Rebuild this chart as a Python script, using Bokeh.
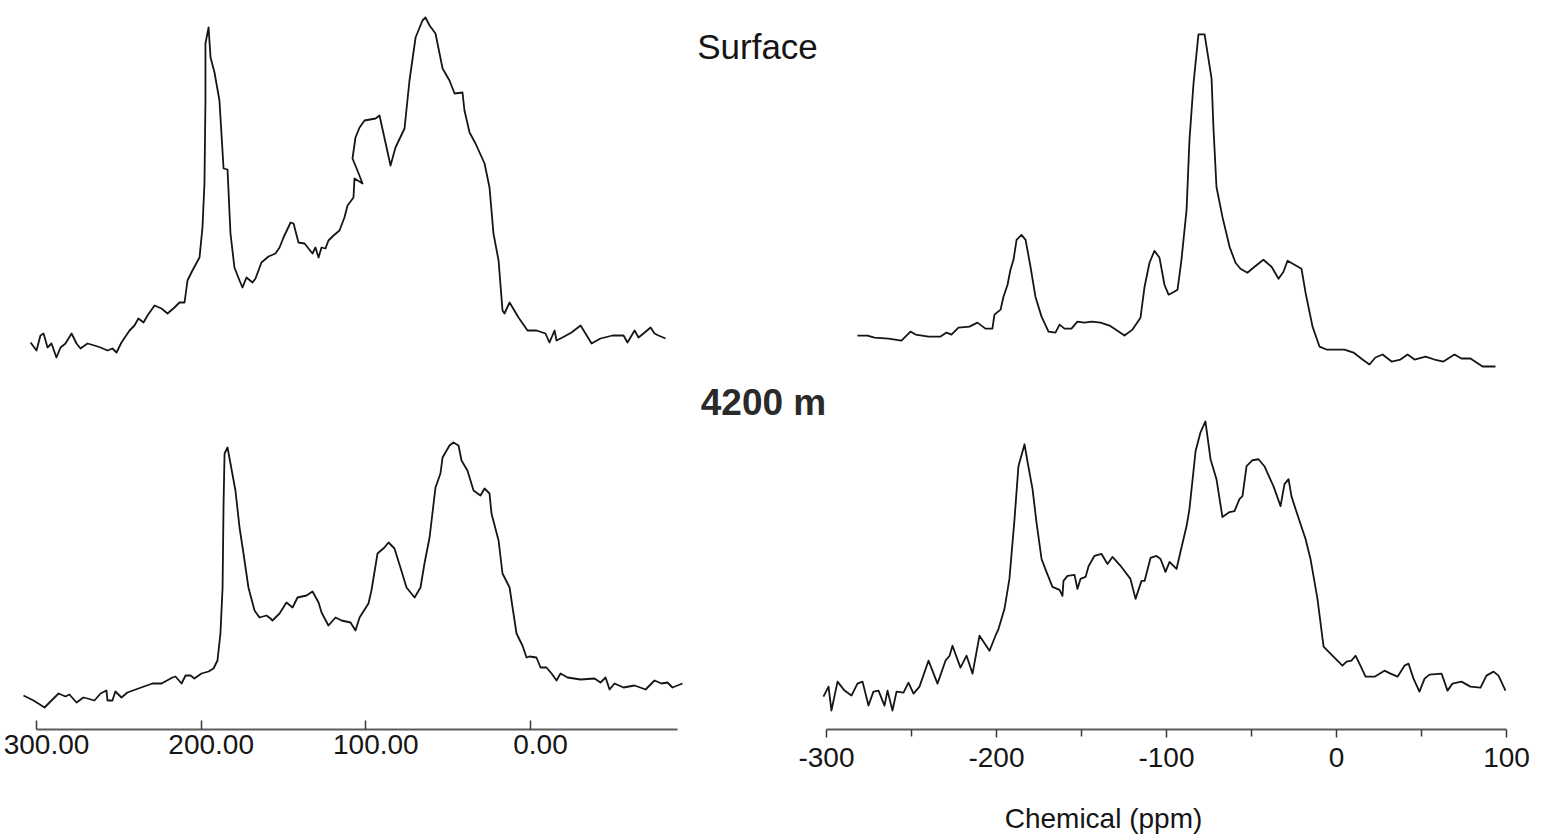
from bokeh.plotting import figure
from bokeh.models import Range1d, LinearAxis, FixedTicker, PrintfTickFormatter, Label
from bokeh.layouts import row
from bokeh.embed import file_html
from bokeh.resources import INLINE

# ---------------- data (ppm, intensity in arbitrary units) ----------------
LEFT_TICKS = [300, 200, 100, 0]
RIGHT_TICKS = [-300, -200, -100, 0, 100]
RIGHT_MINOR = [-250, -150, -50, 50]
LABEL_TOP = "Surface"
LABEL_BOTTOM = "4200 m"
X_TITLE = "Chemical (ppm)"

# left, top (Surface)
LT_PPM = [303.6, 300.0, 297.6, 295.7, 293.3, 290.9, 287.9, 285.4, 282.4, 278.7, 275.7, 273.3, 269.0, 264.8,
          261.1, 256.9, 253.9, 251.4, 248.4, 243.5, 240.5, 238.1, 235.0, 232.6, 228.3, 224.1, 220.4, 216.2,
          213.2, 210.1, 208.3, 205.3, 201.0, 199.2, 198.0, 197.4, 197.4, 195.5, 194.3, 191.9, 188.9, 186.4,
          184.0, 182.2, 179.8, 176.7, 174.9, 172.5, 168.8, 167.0, 163.4, 159.1, 154.9, 152.4, 150.0, 145.7,
          143.9, 140.9, 137.2, 134.8, 132.4, 130.6, 128.7, 126.9, 124.5, 122.7, 119.6, 116.0, 113.0, 111.1,
          107.5, 106.9, 102.0, 105.1, 108.1, 106.3, 103.8, 100.8, 94.1, 91.7, 85.0, 82.0, 76.5, 73.5, 69.8,
          65.6, 63.8, 61.3, 57.7, 53.4, 49.2, 46.1, 41.3, 40.1, 37.0, 33.4, 27.9, 24.9, 22.5, 19.4, 17.0,
          15.8, 12.7, 7.3, 1.8, -3.6, -9.1, -11.5, -14.6, -15.8, -19.4, -24.9, -30.4, -33.4, -37.1, -42.5,
          -49.8, -56.5, -58.9, -63.2, -65.6, -68.6, -72.9, -75.3, -77.7, -82.0]
LT_INT = [18, 10, 25, 27, 13, 17, 3, 13, 17, 27, 17, 12, 17, 15, 13, 10, 12, 8, 18, 30, 35, 42, 38, 45, 55,
          52, 47, 53, 58, 58, 80, 90, 103, 133, 177, 260, 317, 333, 303, 288, 260, 192, 191, 127, 93, 80,
          73, 83, 78, 82, 98, 104, 107, 113, 123, 138, 137, 118, 117, 112, 107, 113, 103, 113, 112, 120,
          125, 130, 143, 155, 163, 182, 177, 190, 202, 223, 233, 240, 242, 245, 195, 213, 232, 280, 323,
          340, 343, 335, 327, 292, 280, 267, 268, 250, 228, 217, 197, 173, 127, 100, 50, 47, 58, 43, 30,
          30, 27, 18, 30, 20, 23, 28, 35, 27, 17, 22, 25, 25, 18, 30, 23, 27, 33, 27, 25, 22]

# left, bottom (4200 m)
LB_PPM = [307.9, 301.8, 295.1, 290.9, 286.6, 282.4, 280.0, 275.7, 271.5, 269.0, 264.8, 261.1, 257.5, 256.9,
          253.9, 252.1, 248.4, 244.8, 238.1, 229.6, 224.1, 217.4, 215.6, 211.9, 209.5, 206.5, 204.1, 199.8,
          195.5, 192.5, 190.1, 188.3, 187.0, 186.4, 185.8, 184.0, 182.2, 179.2, 176.7, 174.3, 171.3, 167.6,
          164.6, 160.3, 157.9, 156.7, 152.4, 148.2, 144.5, 141.5, 136.0, 132.4, 128.7, 126.9, 122.7, 118.4,
          114.8, 109.3, 106.3, 103.8, 98.4, 96.6, 92.9, 88.7, 86.2, 82.6, 79.0, 75.3, 70.4, 66.8, 64.4,
          61.3, 57.7, 54.7, 53.4, 49.2, 46.8, 43.7, 41.9, 38.3, 34.6, 30.4, 27.9, 24.9, 23.7, 19.4, 17.0,
          12.7, 10.9, 8.5, 4.9, 2.4, 0.6, -3.6, -6.1, -9.7, -12.8, -15.8, -18.2, -22.5, -30.4, -38.9,
          -42.5, -45.6, -48.0, -51.0, -56.5, -63.2, -69.9, -75.3, -79.6, -83.2, -86.2, -92.3]
LB_INT = [15, 10, 3, 10, 17, 14, 16, 8, 13, 12, 10, 17, 20, 10, 10, 19, 13, 18, 22, 27, 27, 33, 34, 27, 35,
          35, 32, 37, 39, 42, 50, 77, 123, 207, 257, 263, 247, 220, 183, 157, 123, 100, 93, 95, 92, 90, 97,
          108, 103, 113, 115, 119, 108, 98, 85, 93, 90, 88, 80, 93, 107, 120, 157, 163, 168, 162, 143, 123,
          113, 123, 147, 173, 223, 237, 253, 265, 268, 265, 250, 240, 220, 215, 222, 217, 197, 170, 137,
          123, 103, 77, 65, 53, 54, 53, 43, 43, 37, 30, 37, 33, 31, 32, 28, 33, 21, 27, 23, 25, 21, 30,
          27, 28, 23, 27]

# right, top (Surface)
RT_PPM = [-281.8, -275.9, -271.8, -263.5, -255.9, -250.6, -247.6, -240.0, -232.9, -229.4, -226.5, -222.4,
          -215.9, -211.2, -206.5, -202.4, -201.2, -197.6, -195.9, -193.5, -191.8, -190.0, -188.2, -185.3,
          -182.9, -180.0, -177.1, -173.5, -169.4, -165.3, -162.9, -160.0, -155.9, -152.4, -148.2, -144.1,
          -138.8, -133.5, -128.2, -124.7, -120.0, -115.3, -112.9, -110.0, -107.1, -104.1, -101.2, -98.8,
          -96.5, -93.5, -91.2, -88.2, -86.5, -84.1, -81.2, -77.6, -73.5, -72.4, -70.6, -67.1, -62.9, -59.4,
          -56.5, -52.4, -48.2, -43.0, -38.2, -34.1, -31.2, -28.8, -24.7, -20.6, -18.2, -14.1, -10.0, -5.9,
          4.7, 10.0, 15.3, 19.4, 22.9, 27.1, 32.4, 37.6, 41.8, 45.9, 52.4, 57.6, 62.9, 69.4, 73.5, 78.8,
          85.9, 93.5]
RT_INT = [34, 34, 32, 31, 29, 38, 35, 33, 33, 37, 35, 42, 43, 47, 41, 41, 55, 60, 73, 85, 100, 110, 130, 135,
          130, 103, 73, 53, 38, 37, 45, 41, 41, 48, 47, 48, 47, 44, 38, 34, 40, 52, 83, 107, 119, 112, 85,
          75, 77, 80, 110, 160, 230, 287, 336, 336, 292, 243, 183, 153, 123, 107, 101, 97, 103, 110, 103,
          91, 98, 109, 105, 101, 77, 43, 23, 20, 20, 17, 10, 5, 12, 15, 8, 10, 15, 10, 13, 10, 8, 15, 11,
          11, 3, 3]

# right, bottom (4200 m)
RB_PPM = [-301.8, -298.8, -297.1, -293.5, -289.4, -285.3, -281.8, -278.8, -275.3, -272.4, -269.4, -265.9,
          -264.1, -261.2, -258.8, -254.7, -251.8, -248.8, -245.3, -240.0, -234.7, -230.0, -227.6, -225.9,
          -221.2, -217.6, -214.1, -210.0, -204.1, -200.6, -198.8, -195.3, -192.4, -189.4, -187.1, -183.5,
          -181.8, -178.8, -176.5, -173.5, -170.6, -167.1, -162.9, -161.2, -160.6, -158.2, -154.1, -152.4,
          -150.6, -147.6, -145.8, -142.4, -138.2, -134.7, -131.8, -126.5, -121.2, -118.2, -114.7, -112.9,
          -109.4, -105.9, -103.5, -100.6, -98.2, -94.1, -91.8, -88.2, -86.5, -82.9, -80.0, -77.1, -74.1,
          -70.6, -67.1, -62.9, -60.0, -57.1, -55.3, -52.9, -49.4, -45.9, -42.4, -37.1, -32.9, -30.6, -28.2,
          -26.5, -23.5, -18.2, -15.3, -11.2, -7.6, -1.8, 3.5, 5.9, 8.8, 11.2, 13.5, 17.1, 22.4, 28.2, 31.8,
          35.9, 40.0, 42.4, 45.3, 48.8, 51.8, 54.7, 61.8, 65.3, 68.2, 73.5, 78.8, 84.7, 88.2, 92.4, 95.3,
          99.4]
RB_INT = [22, 32, 8, 37, 28, 23, 35, 37, 13, 27, 28, 13, 28, 8, 27, 26, 36, 25, 32, 58, 35, 58, 63, 73, 51,
          63, 45, 83, 68, 83, 90, 110, 140, 200, 253, 275, 258, 230, 197, 160, 147, 132, 129, 123, 138, 143,
          144, 130, 140, 142, 153, 163, 165, 155, 162, 152, 140, 120, 138, 138, 161, 163, 160, 147, 157, 150,
          167, 193, 210, 268, 287, 298, 260, 240, 202, 207, 208, 220, 223, 253, 259, 260, 253, 233, 213, 235,
          240, 223, 207, 180, 160, 120, 72, 62, 53, 57, 58, 63, 55, 42, 42, 48, 45, 42, 53, 55, 40, 27, 40,
          44, 45, 28, 35, 37, 32, 31, 43, 47, 43, 28]

# ---------------- layout geometry (page pixels) ----------------
FONT = "Liberation Sans"
INK = "#151515"
AXIS_GRAY = "#5c5c5c"
H = 836                 # figure height
PAGE0 = 0               # the layout is drawn from the page corner
SPLIT = 686             # page x where the right figure starts
RIGHT_END = 1540
R_FRAME_RIGHT = 1520

# left panel: 300 ppm at x=36, 1.6467 px per ppm, reversed axis
L_PX300, L_SCALE = 36.0, 1.6467
L_X0 = 300 + (L_PX300 - PAGE0) / L_SCALE
L_X1 = 300 - (SPLIT - L_PX300) / L_SCALE
L_AXIS_END = 300 - (677 - L_PX300) / L_SCALE
L_AXIS_Y = 729
L_LABEL_SHIFT = 10 / L_SCALE

# right panel: -300 ppm at x=826, 1.7 px per ppm
R_PXM300, R_SCALE = 826.0, 1.7
R_X0 = -300 - (R_PXM300 - SPLIT) / R_SCALE
R_X1 = -300 + (R_FRAME_RIGHT - R_PXM300) / R_SCALE
R_AXIS_Y = 731


def y_range(base_px, frame_bottom):
    # 1 intensity unit per pixel, zero of the trace at page y = base_px
    return Range1d(start=base_px - frame_bottom, end=base_px - PAGE0)


def make_fig(width, x0, x1, frame_bottom, border_right):
    p = figure(width=width, height=H, x_range=Range1d(x0, x1), y_range=Range1d(0, 1),
               output_backend="svg", toolbar_location=None,
               x_axis_location=None, y_axis_location=None,
               min_border_left=0, min_border_right=border_right, min_border_top=0,
               min_border_bottom=PAGE0 + H - frame_bottom)
    p.outline_line_color = None
    p.background_fill_color = "white"
    p.border_fill_color = "white"
    p.grid.grid_line_color = None
    return p


LINE_W = 1.8

# ---------------- left figure ----------------
left = make_fig(SPLIT - PAGE0, L_X0, L_X1, L_AXIS_Y, 0)
left.extra_y_ranges = {"top": y_range(360, L_AXIS_Y), "bot": y_range(710, L_AXIS_Y)}
left.extra_x_ranges = {"lbl": Range1d(L_X0 + L_LABEL_SHIFT, L_X1 + L_LABEL_SHIFT)}
left.line(LT_PPM, LT_INT, y_range_name="top", line_color=INK, line_width=LINE_W, line_join="round")
left.line(LB_PPM, LB_INT, y_range_name="bot", line_color=INK, line_width=LINE_W, line_join="round")

ax_line = LinearAxis(ticker=FixedTicker(ticks=LEFT_TICKS), bounds=(300, L_AXIS_END),
                     axis_line_color=AXIS_GRAY, axis_line_width=2.2,
                     major_tick_in=9, major_tick_out=0, major_tick_line_color="#3a3a3a",
                     major_tick_line_width=1.5, minor_tick_in=0, minor_tick_out=0,
                     minor_tick_line_color=None,
                     major_label_overrides={t: "" for t in LEFT_TICKS},
                     major_label_text_font_size="0px", major_label_standoff=0)
ax_lbl = LinearAxis(x_range_name="lbl", ticker=FixedTicker(ticks=LEFT_TICKS),
                    formatter=PrintfTickFormatter(format="%.2f"),
                    axis_line_color=None, major_tick_line_color=None, minor_tick_line_color=None,
                    major_tick_in=0, major_tick_out=0, minor_tick_in=0, minor_tick_out=0,
                    major_label_standoff=5, major_label_text_font=FONT,
                    major_label_text_font_size="28px", major_label_text_color=INK)
left.add_layout(ax_line, "below")
left.add_layout(ax_lbl, "below")

# ---------------- right figure ----------------
right = make_fig(RIGHT_END - SPLIT, R_X0, R_X1, R_AXIS_Y, RIGHT_END - R_FRAME_RIGHT)
right.extra_y_ranges = {"top": y_range(370, R_AXIS_Y), "bot": y_range(720, R_AXIS_Y)}
right.line(RT_PPM, RT_INT, y_range_name="top", line_color=INK, line_width=LINE_W, line_join="round")
right.line(RB_PPM, RB_INT, y_range_name="bot", line_color=INK, line_width=LINE_W, line_join="round")

ax_r = LinearAxis(ticker=FixedTicker(ticks=RIGHT_TICKS, minor_ticks=RIGHT_MINOR), bounds=(-300, 100),
                  formatter=PrintfTickFormatter(format="%d"),
                  axis_line_color=AXIS_GRAY, axis_line_width=2.2,
                  major_tick_in=0, major_tick_out=8, major_tick_line_color="#3a3a3a",
                  major_tick_line_width=1.5,
                  minor_tick_in=0, minor_tick_out=7, minor_tick_line_color="#3a3a3a",
                  minor_tick_line_width=1.5,
                  major_label_standoff=10, major_label_text_font=FONT,
                  major_label_text_font_size="28px", major_label_text_color=INK,
                  axis_label=X_TITLE, axis_label_standoff=33, axis_label_text_font=FONT,
                  axis_label_text_font_size="28px", axis_label_text_font_style="normal",
                  axis_label_text_color=INK)
right.add_layout(ax_r, "below")

# panel captions, placed between the two panels
right.add_layout(Label(x=-300 + (757 - R_PXM300) / R_SCALE, y=370 - 46, y_range_name="top",
                       text=LABEL_TOP, text_align="center", text_baseline="middle",
                       text_font=FONT, text_font_size="35px", text_color=INK))
right.add_layout(Label(x=-300 + (763 - R_PXM300) / R_SCALE, y=720 - 403, y_range_name="bot",
                       text=LABEL_BOTTOM, text_align="center", text_baseline="middle",
                       text_font=FONT, text_font_size="37px", text_font_style="bold",
                       text_color="#2a2a2a"))

page = row(left, right, spacing=0)
open("out.html", "w").write(file_html(page, INLINE))
